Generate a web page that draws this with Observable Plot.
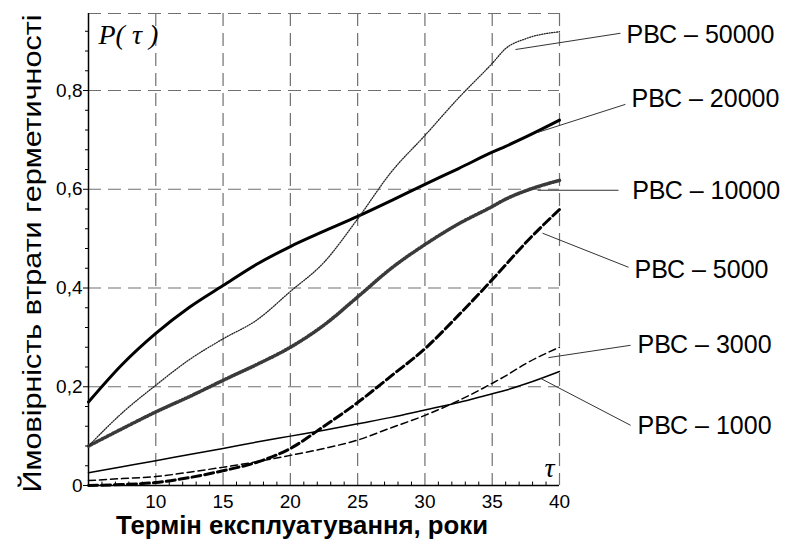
<!DOCTYPE html>
<html>
<head>
<meta charset="utf-8">
<script src="https://cdn.jsdelivr.net/npm/d3@7"></script>
<script src="https://cdn.jsdelivr.net/npm/@observablehq/plot@0.6"></script>
<style>
  html, body { margin: 0; padding: 0; background: white; }
</style>
</head>
<body>
<div id="chart"></div>
<script>
// ---- data ----
const tau      = [5, 7.5, 10, 12.5, 15, 17.5, 20, 22.5, 25, 27.5, 30, 32.5, 35, 36, 37.5, 40];
const p1000    = [0.026, 0.038, 0.050, 0.063, 0.075, 0.088, 0.100, 0.112, 0.125, 0.138, 0.153, 0.168, 0.186, 0.193, 0.206, 0.231];
const p3000    = [0.010, 0.014, 0.018, 0.027, 0.037, 0.048, 0.061, 0.075, 0.092, 0.117, 0.142, 0.172, 0.207, 0.222, 0.247, 0.280];
const p5000    = [0.000, 0.002, 0.006, 0.016, 0.030, 0.047, 0.075, 0.120, 0.168, 0.222, 0.277, 0.345, 0.417, 0.447, 0.492, 0.559];
const p10000   = [0.080, 0.115, 0.149, 0.180, 0.213, 0.245, 0.280, 0.325, 0.382, 0.440, 0.488, 0.530, 0.565, 0.580, 0.597, 0.618];
const p20000   = [0.169, 0.245, 0.308, 0.361, 0.405, 0.448, 0.484, 0.515, 0.545, 0.577, 0.610, 0.642, 0.675, 0.687, 0.706, 0.740];
const p50000   = [0.080, 0.147, 0.203, 0.255, 0.297, 0.335, 0.393, 0.452, 0.540, 0.635, 0.709, 0.785, 0.855, 0.885, 0.905, 0.919];

const xTicks      = [10, 15, 20, 25, 30, 35, 40];
const xMinorTicks = d3.range(6, 40, 1).filter(v => v % 5 !== 0);
const yTicks      = [0, 0.2, 0.4, 0.6, 0.8];
const yMinorTicks = d3.range(0.04, 0.93, 0.04).map(v => +v.toFixed(2)).filter(v => Math.abs(v / 0.2 - Math.round(v / 0.2)) > 1e-6);
const yTop        = 0.956;

// labels and leader lines (data coordinates)
const labelNames = ["РВС – 50000", "РВС – 20000", "РВС – 10000", "РВС – 5000", "РВС – 3000", "РВС – 1000"];
const labelX     = [44.98, 45.35, 45.40, 45.57, 45.80, 45.80];
const labelY     = [0.912, 0.782, 0.596, 0.436, 0.284, 0.120];
const leadX1     = [44.53, 44.90, 44.38, 45.13, 45.28, 45.28];
const leadY1     = [0.916, 0.772, 0.598, 0.442, 0.284, 0.122];
const leadX2     = [36.73, 38.37, 38.37, 38.74, 39.18, 38.59];
const leadY2     = [0.883, 0.715, 0.598, 0.511, 0.259, 0.217];

const yTitle = "Ймовірність втрати герметичності";
const xTitle = "Термін експлуатування, роки";

const rows = v => tau.map((t, i) => ({t, p: v[i]}));
const fmt = d => d === 0 ? "0" : d.toFixed(1).replace(".", ",");
const grid = {stroke: "#707070", strokeWidth: 1.2, strokeDasharray: "13,7"};

const chart = Plot.plot({
  width: 788,
  height: 540,
  marginLeft: 88,
  marginRight: 229,
  marginTop: 13,
  marginBottom: 55,
  x: {domain: [5, 40]},
  y: {domain: [0, yTop]},
  style: {fontFamily: "'Liberation Sans', Arial, sans-serif", background: "white", color: "black"},
  marks: [
    // grid
    Plot.ruleY([...yTicks.filter(v => v > 0), yTop], {...grid}),
    Plot.ruleX(xTicks, {...grid}),
    // axes lines
    Plot.ruleX([5], {stroke: "black", strokeWidth: 1.5}),
    Plot.ruleY([0], {stroke: "black", strokeWidth: 1.5}),
    // minor ticks
    Plot.ruleX(xMinorTicks, {y1: 0, y2: 0.007, stroke: "black", strokeWidth: 1}),
    Plot.axisY({ticks: yMinorTicks, tickSize: 3, tickFormat: () => "", strokeWidth: 1, label: null}),
    Plot.axisY({ticks: yTicks, tickSize: 5, tickPadding: 1, tickFormat: fmt, fontSize: 19, label: null}),
    Plot.axisX({ticks: xTicks, tickSize: 0, tickPadding: 9, fontSize: 19, label: null}),
    // curves
    Plot.line(rows(p1000),  {x: "t", y: "p", stroke: "black", strokeWidth: 1.5, curve: "monotone-x"}),
    Plot.line(rows(p3000),  {x: "t", y: "p", stroke: "black", strokeWidth: 1.5, strokeDasharray: "7,4", curve: "monotone-x"}),
    Plot.line(rows(p5000),  {x: "t", y: "p", stroke: "black", strokeWidth: 3, strokeDasharray: "9,4", curve: "monotone-x"}),
    Plot.line(rows(p10000), {x: "t", y: "p", stroke: "#3a3a3a", strokeWidth: 3.6, strokeDasharray: "1,2", curve: "monotone-x"}),
    Plot.line(rows(p20000), {x: "t", y: "p", stroke: "black", strokeWidth: 3, curve: "monotone-x"}),
    Plot.line(rows(p50000), {x: "t", y: "p", stroke: "#222", strokeWidth: 1.3, strokeDasharray: "1,1.5", curve: "monotone-x"}),
    // leader lines + labels
    Plot.link(labelNames, {x1: leadX1, y1: leadY1, x2: leadX2, y2: leadY2, stroke: "#333", strokeWidth: 1}),
    Plot.text(labelNames, {x: labelX, y: labelY, text: d => d, textAnchor: "start", fontSize: 25, fill: "black"}),
    // in-plot symbols
    Plot.text(["P( τ )"], {frameAnchor: "top-left", dx: 10, dy: 22, textAnchor: "start", lineAnchor: "middle", fontSize: 28,
      fontFamily: "'Liberation Serif', 'DejaVu Serif', serif", fontStyle: "italic", fill: "black"}),
    Plot.text(["τ"], {frameAnchor: "bottom-right", dx: -10, dy: -17, textAnchor: "middle", lineAnchor: "middle", fontSize: 28,
      fontFamily: "'Liberation Serif', 'DejaVu Serif', serif", fontStyle: "italic", fill: "black"}),
    // titles
    Plot.text([yTitle], {frameAnchor: "left", rotate: -90, dx: -56, dy: 4, textAnchor: "middle", lineAnchor: "middle", fontSize: 25, fill: "black"}),
    Plot.text([xTitle], {frameAnchor: "bottom", dx: -22, dy: 40, textAnchor: "middle", lineAnchor: "middle", fontSize: 25, fontWeight: "bold", fill: "black"})
  ]
});
// stretch the two axis titles to the lengths they have in the reference
d3.select(chart).selectAll("text")
  .filter(function () { return this.textContent === yTitle; })
  .attr("textLength", 478).attr("lengthAdjust", "spacingAndGlyphs");
d3.select(chart).selectAll("text")
  .filter(function () { return this.textContent === xTitle; })
  .attr("textLength", 372).attr("lengthAdjust", "spacingAndGlyphs");
document.getElementById("chart").append(chart);
</script>
</body>
</html>
